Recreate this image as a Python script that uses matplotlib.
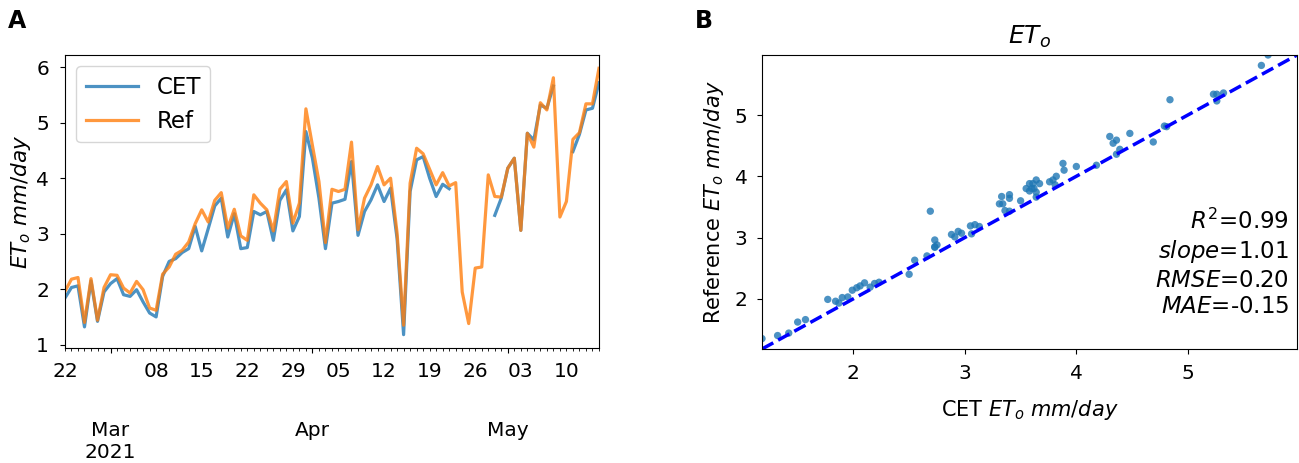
import numpy as np
import pandas as pd
import matplotlib
matplotlib.use("Agg")
import matplotlib.pyplot as plt
import matplotlib.dates as mdates
from matplotlib.ticker import FixedLocator, FixedFormatter, FuncFormatter

# daily ETo, 2021-02-22 .. 2021-05-15 (nan = no CET value)
nan = np.nan
dates = pd.date_range("2021-02-22", periods=83, freq="D")
cet = [1.84, 2.03, 2.06, 1.32, 2.15, 1.42, 1.95, 2.10, 2.19, 1.90,
       1.87, 1.99, 1.77, 1.57, 1.50, 2.23, 2.50, 2.55, 2.66, 2.73,
       3.13, 2.69, 3.09, 3.50, 3.64, 2.94, 3.36, 2.73, 2.75, 3.40,
       3.34, 3.40, 2.88, 3.60, 3.79, 3.05, 3.31, 4.84, 4.36, 3.64,
       2.73, 3.55, 3.58, 3.62, 4.30, 2.97, 3.40, 3.61, 3.88, 3.58,
       3.82, 2.91, 1.18, 3.76, 4.33, 4.39, 4.00, 3.67, 3.89, 3.81,
       nan, nan, nan, nan, nan, nan, 3.33, 3.64, 4.18, 4.36,
       3.06, 4.81, 4.69, 5.32, 5.26, 5.66, nan, nan, 4.48, 4.79,
       5.23, 5.26, 5.72]
ref = [1.96, 2.18, 2.21, 1.40, 2.19, 1.44, 2.03, 2.26, 2.25, 2.02,
       1.93, 2.14, 1.99, 1.66, 1.62, 2.27, 2.40, 2.63, 2.70, 2.85,
       3.18, 3.43, 3.21, 3.60, 3.74, 3.10, 3.44, 2.96, 2.88, 3.70,
       3.55, 3.43, 3.05, 3.80, 3.94, 3.19, 3.55, 5.25, 4.59, 3.94,
       2.84, 3.80, 3.76, 3.80, 4.65, 3.07, 3.64, 3.88, 4.21, 3.88,
       4.00, 3.01, 1.35, 3.91, 4.54, 4.44, 4.16, 3.88, 4.10, 3.86,
       3.92, 1.95, 1.38, 2.38, 2.40, 4.06, 3.67, 3.66, 4.18, 4.36,
       3.06, 4.81, 4.56, 5.36, 5.23, 5.81, 3.30, 3.58, 4.70, 4.82,
       5.34, 5.34, 5.98]
month_starts = ["2021-03-01", "2021-04-01", "2021-05-01"]
month_labels = ["Mar\n2021", "Apr", "May"]
stats_text = "$R^2$=0.99\n$slope$=1.01\n$RMSE$=0.20\n$MAE$=-0.15"

cet = np.array(cet)
ref = np.array(ref)

plt.rcParams["font.size"] = 14.5
fig = plt.figure(figsize=(12.99, 4.63), dpi=100)

############ A: time series ############
ax = fig.add_axes([0.050, 0.2484, 0.4111, 0.6328])
ax.plot(dates, cet, color="tab:blue", alpha=0.8, lw=2.3, label="CET")
ax.plot(dates, ref, color="tab:orange", alpha=0.8, lw=2.3, label="Ref")
ax.set_xlim(dates[0], dates[-1])
ax.set_ylabel("$ET_o$ $mm/day$", fontsize=15.5, labelpad=2)
ax.legend(loc="upper left", fontsize=16.5, handlelength=2.3)

major = [mdates.date2num(pd.Timestamp(d)) for d in month_starts]
ax.xaxis.set_major_locator(FixedLocator(major))
ax.xaxis.set_major_formatter(FixedFormatter(month_labels))
ax.xaxis.set_minor_locator(mdates.DayLocator())

def minor_fmt(x, pos):
    d = mdates.num2date(x)
    if d.weekday() == 0 and d.day != 1:
        return d.strftime("%d")
    return ""

ax.xaxis.set_minor_formatter(FuncFormatter(minor_fmt))
ax.tick_params(axis="x", which="minor", labelsize=14.5, pad=8)
ax.tick_params(axis="x", which="major", labelsize=14.5, pad=49)
ax.tick_params(axis="y", labelsize=14.5, pad=8)
fig.text(0.006, 0.955, "A", fontsize=17, fontweight="bold", va="center")

############ B: scatter ############
ok = ~np.isnan(cet) & ~np.isnan(ref)
x = cet[ok]
y = ref[ok]
lo = min(x.min(), y.min())
hi = max(x.max(), y.max())

bx = fig.add_axes([0.5866, 0.2462, 0.4119, 0.635])
bx.scatter(x, y, s=28, color="tab:blue", alpha=0.8, edgecolors="none")
bx.plot([lo, hi], [lo, hi], "--", color="blue", lw=2.5)
bx.set_xlim(lo, hi)
bx.set_ylim(lo, hi)
bx.set_xticks([2, 3, 4, 5])
bx.set_yticks([2, 3, 4, 5])
bx.set_title("$ET_o$", fontsize=18, pad=8)
bx.set_xlabel("CET $ET_o$ $mm/day$", fontsize=15, labelpad=11)
bx.set_ylabel("Reference $ET_o$ $mm/day$", fontsize=15, labelpad=6)
bx.tick_params(labelsize=14.5, pad=7)
bx.text(0.985, 0.105, stats_text, transform=bx.transAxes, ha="right",
        va="bottom", fontsize=16.5)
fig.text(0.535, 0.955, "B", fontsize=17, fontweight="bold", va="center")

fig.savefig("out.png", dpi=100)
